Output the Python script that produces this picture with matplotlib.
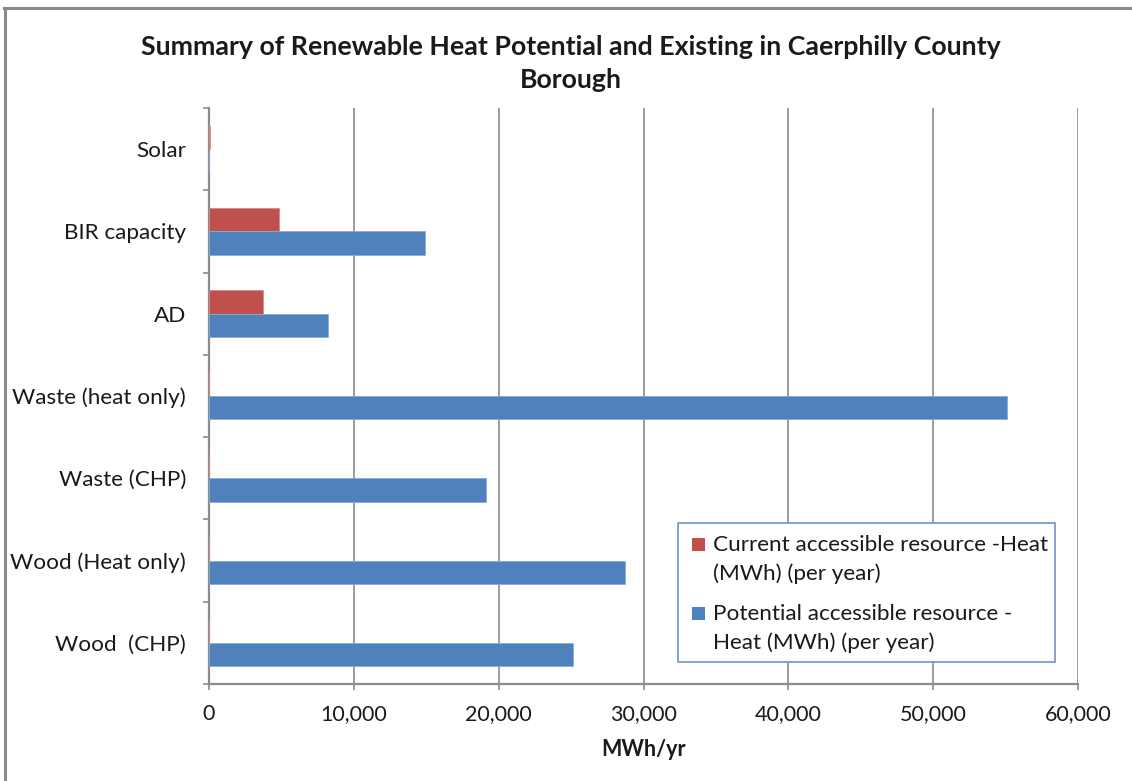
import numpy as np
import matplotlib.pyplot as plt
from matplotlib.lines import Line2D
from matplotlib.patches import Rectangle
from matplotlib.ticker import FuncFormatter, FixedLocator, NullFormatter

plt.rcParams['font.family'] = ['Lato', 'DejaVu Sans']

categories = ['Wood  (CHP)', 'Wood (Heat only)', 'Waste (CHP)', 'Waste (heat only)',
              'AD', 'BIR capacity', 'Solar']
current = [0, 0, 0, 0, 3730, 4810, 100]
potential = [25120, 28710, 19120, 55080, 8220, 14900, 0]

lbl_current = 'Current accessible resource -Heat\n(MWh) (per year)'
lbl_potential = 'Potential accessible resource -\nHeat (MWh) (per year)'

red = '#C0504D'
blue = '#4F81BD'
grid_c = '#8C8C8C'
txt = '#1a1a1a'

W, H = 1132, 781
fig = plt.figure(figsize=(W / 100, H / 100), dpi=100)
ax = fig.add_axes([209 / W, 1 - 684 / H, (1078 - 209) / W, (684 - 108) / H])


def px(x, y):
    # pixel position (from top-left) to figure fraction
    return x / W, 1 - y / H


y = np.arange(len(categories))
h = 0.283
ax.barh(y + h / 2, current, height=h, color=red, edgecolor='#d98a88', linewidth=0.6,
        zorder=3)
ax.barh(y - h / 2, potential, height=h, color=blue, edgecolor='#8aaad6', linewidth=0.6,
        zorder=3)

ax.set_xlim(0, 60000)
ax.set_ylim(-0.5, len(categories) - 0.5)

ax.set_xticks(np.arange(0, 60001, 10000))
ax.xaxis.set_major_formatter(FuncFormatter(lambda v, p: f'{int(v):,}'))
ax.grid(axis='x', color=grid_c, linewidth=1.2, zorder=0)

# category labels sit between boundary ticks
ax.yaxis.set_major_locator(FixedLocator(np.arange(-0.5, len(categories), 1.0)))
ax.yaxis.set_major_formatter(NullFormatter())
ax.yaxis.set_minor_locator(FixedLocator(y))
ax.set_yticklabels(categories, minor=True)
ax.tick_params(axis='y', which='minor', length=0, pad=16.5, labelsize=16.2, labelcolor=txt)
ax.tick_params(axis='y', which='major', length=4.5, width=1.2, color=grid_c)
ax.tick_params(axis='x', length=4.5, width=1.2, color=grid_c, pad=10, labelsize=15.5,
               labelcolor=txt)

for s in ['top', 'right']:
    ax.spines[s].set_visible(False)
for s in ['left', 'bottom']:
    ax.spines[s].set_color(grid_c)
    ax.spines[s].set_linewidth(1.6)

ax.set_xlabel('MWh/yr', fontsize=15.5, fontweight='bold', color=txt, labelpad=11)

fig.text(*px(571, 47), 'Summary of Renewable Heat Potential and Existing in Caerphilly County',
         ha='center', va='center', fontsize=19.3, fontweight='bold', color=txt)
fig.text(*px(571, 80), 'Borough', ha='center', va='center', fontsize=19.3,
         fontweight='bold', color=txt)

# legend box, swatches aligned with the first line of each entry
x0, y0 = px(678, 662)
x1, y1 = px(1055, 523)
fig.add_artist(Rectangle((x0, y0), x1 - x0, y1 - y0, transform=fig.transFigure,
                         facecolor='white', edgecolor='#6d95c9', linewidth=1.2, zorder=5))
for col, lab, ytop in [(red, lbl_current, 544), (blue, lbl_potential, 613)]:
    sx, sy = px(692, ytop + 7)
    fig.add_artist(Rectangle((sx, sy), 13 / W, 13 / H, transform=fig.transFigure,
                             facecolor=col, edgecolor='none', zorder=6))
    fig.text(*px(713, ytop - 9), lab, ha='left', va='top', fontsize=16.2,
             color=txt, linespacing=1.5, zorder=6)

# outer chart frame
fig.add_artist(Line2D([4 / W, 1], [1 - 8 / H, 1 - 8 / H], color='#8a8a8a', linewidth=2.2))
fig.add_artist(Line2D([5 / W, 5 / W], [0, 1 - 8 / H], color='#8a8a8a', linewidth=2.2))

fig.savefig('out.png', dpi=100, facecolor='white')
